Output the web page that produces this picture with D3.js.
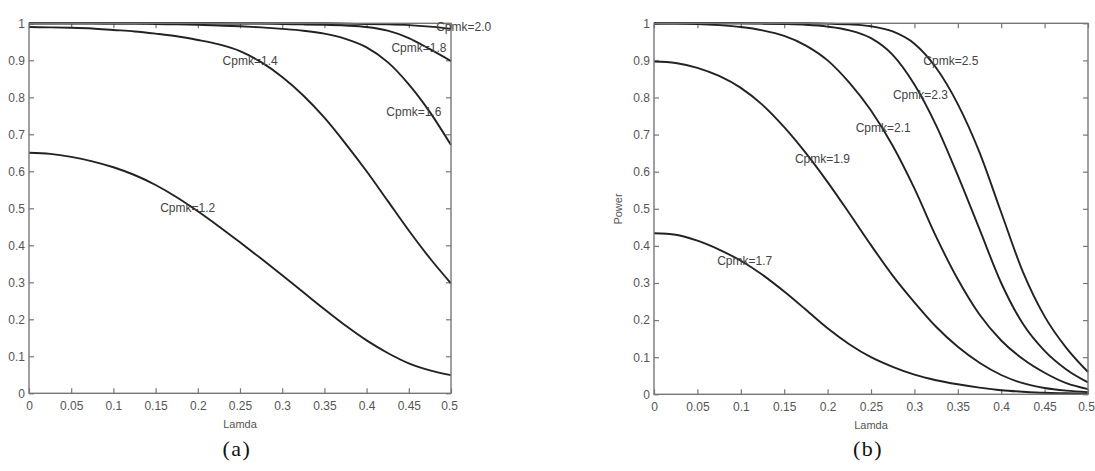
<!DOCTYPE html>
<html>
<head>
<meta charset="utf-8">
<script src="https://cdn.jsdelivr.net/npm/d3@7"></script>
<style>
  body { margin: 0; background: #fff; }
  svg { display: block; }
  .tick text { font-family: "Liberation Sans", Arial, sans-serif; font-size: 12px; fill: #555; }
  .tick line { stroke: #777; stroke-width: 1.2; }
</style>
</head>
<body>
<svg id="chart" width="1095" height="471"></svg>
<script>
// lamda grid shared by every curve
var lamda = [0, 0.025, 0.05, 0.075, 0.1, 0.125, 0.15, 0.175, 0.2, 0.225, 0.25,
             0.275, 0.3, 0.325, 0.35, 0.375, 0.4, 0.425, 0.45, 0.475, 0.5];

// panel (a)
var a12 = [0.650,0.647,0.639,0.627,0.611,0.590,0.563,0.530,0.492,0.451,0.408,0.364,0.319,0.273,0.227,0.183,0.143,0.109,0.081,0.062,0.049];
var a14 = [0.990,0.989,0.988,0.986,0.982,0.978,0.972,0.965,0.955,0.943,0.925,0.895,0.855,0.805,0.745,0.675,0.600,0.520,0.440,0.365,0.297];
var a16 = [1.000,1.000,1.000,1.000,0.999,0.999,0.998,0.997,0.996,0.994,0.992,0.989,0.985,0.980,0.972,0.958,0.935,0.895,0.835,0.760,0.671];
var a18 = [1,1,1,1,1,1,1,1,1,1,0.999,0.999,0.998,0.997,0.996,0.994,0.990,0.980,0.960,0.930,0.898];
var a20 = [1,1,1,1,1,1,1,1,1,1,1,1,1,1,1,0.999,0.998,0.997,0.995,0.991,0.985];

// panel (b)
var b17 = [0.434,0.430,0.414,0.390,0.360,0.322,0.277,0.228,0.178,0.135,0.100,0.074,0.053,0.038,0.027,0.018,0.011,0.007,0.004,0.003,0.002];
var b19 = [0.897,0.893,0.880,0.858,0.826,0.780,0.720,0.650,0.572,0.488,0.402,0.320,0.248,0.182,0.128,0.085,0.052,0.030,0.017,0.010,0.006];
var b21 = [0.999,0.999,0.998,0.995,0.990,0.981,0.966,0.940,0.900,0.840,0.765,0.670,0.555,0.425,0.310,0.215,0.145,0.095,0.058,0.030,0.014];
var b23 = [1,1,1,1,1,0.999,0.998,0.996,0.991,0.981,0.960,0.915,0.835,0.725,0.590,0.445,0.300,0.190,0.117,0.067,0.032];
var b25 = [1,1,1,1,1,1,1,1,0.999,0.997,0.992,0.978,0.945,0.880,0.782,0.652,0.490,0.330,0.210,0.125,0.060];

var seriesA = [a12, a14, a16, a18, a20];
var seriesB = [b17, b19, b21, b23, b25];
var namesA = ["Cpmk=1.2", "Cpmk=1.4", "Cpmk=1.6", "Cpmk=1.8", "Cpmk=2.0"];
var namesB = ["Cpmk=1.7", "Cpmk=1.9", "Cpmk=2.1", "Cpmk=2.3", "Cpmk=2.5"];
// where each curve label sits, in [lamda, power]
var labelAtA = [[0.188, 0.50], [0.262, 0.899], [0.456, 0.759], [0.462, 0.932], [0.515, 0.991]];
var labelAtB = [[0.1045, 0.359], [0.194, 0.634], [0.264, 0.717], [0.307, 0.807], [0.342, 0.899]];

var xTicks = [0, 0.05, 0.1, 0.15, 0.2, 0.25, 0.3, 0.35, 0.4, 0.45, 0.5];
var xTickLabels = ["0", "0.05", "0.1", "0.15", "0.2", "0.25", "0.3", "0.35", "0.4", "0.45", "0.5"];
var yTicks = [0, 0.1, 0.2, 0.3, 0.4, 0.5, 0.6, 0.7, 0.8, 0.9, 1];
var yTickLabels = ["0", "0.1", "0.2", "0.3", "0.4", "0.5", "0.6", "0.7", "0.8", "0.9", "1"];

var svg = d3.select("#chart");
svg.append("rect").attr("width", 1095).attr("height", 471).attr("fill", "#fff");

function drawPanel(box, series, names, labelAt, caption, yTitle) {
    var x = d3.scaleLinear().domain([0, 0.5]).range([box.left, box.right]);
    var y = d3.scaleLinear().domain([0, 1]).range([box.bottom, box.top]);
    var g = svg.append("g");

    var fmtX = function(d, i){ return xTickLabels[i]; };
    var fmtY = function(d, i){ return yTickLabels[i]; };

    var xAxis = g.append("g").attr("transform", "translate(0," + box.bottom + ")")
        .call(d3.axisBottom(x).tickValues(xTicks).tickFormat(fmtX).tickSize(-5).tickSizeOuter(0).tickPadding(8));
    g.append("g").attr("transform", "translate(" + box.left + ",0)")
        .call(d3.axisLeft(y).tickValues(yTicks).tickFormat(fmtY).tickSize(-5).tickSizeOuter(0).tickPadding(4));
    g.append("g").attr("transform", "translate(0," + box.top + ")")
        .call(d3.axisTop(x).tickValues(xTicks).tickFormat("").tickSize(-5).tickSizeOuter(0));
    g.append("g").attr("transform", "translate(" + box.right + ",0)")
        .call(d3.axisRight(y).tickValues(yTicks).tickFormat("").tickSize(-5).tickSizeOuter(0));
    g.selectAll(".domain").remove();
    // keep the last x label inside the page
    xAxis.selectAll(".tick:last-of-type text").attr("dx", -2);

    var line = d3.line()
        .x(function(d, i){ return x(lamda[i]); })
        .y(function(d){ return y(d); })
        .curve(d3.curveMonotoneX);

    g.selectAll("path.curve").data(series).enter().append("path")
        .attr("class", "curve")
        .attr("d", line)
        .attr("fill", "none")
        .attr("stroke", "#222")
        .attr("stroke-width", 1.9);

    // frame drawn over the curves, like matlab's box on
    g.append("rect")
        .attr("x", box.left).attr("y", box.top)
        .attr("width", box.right - box.left).attr("height", box.bottom - box.top)
        .attr("fill", "none").attr("stroke", "#777").attr("stroke-width", 1.4);

    g.selectAll("text.lbl").data(names).enter().append("text")
        .attr("class", "lbl")
        .attr("x", function(d, i){ return x(labelAt[i][0]); })
        .attr("y", function(d, i){ return y(labelAt[i][1]); })
        .attr("text-anchor", "middle")
        .attr("dominant-baseline", "central")
        .attr("font-family", "Liberation Sans, Arial, sans-serif")
        .attr("font-size", 12)
        .attr("fill", "#444")
        .text(function(d){ return d; });

    var cx = (box.left + box.right) / 2;
    g.append("text")
        .attr("x", cx).attr("y", box.bottom + 31)
        .attr("text-anchor", "middle").attr("dominant-baseline", "central")
        .attr("font-family", "Liberation Sans, Arial, sans-serif")
        .attr("font-size", 11).attr("fill", "#555")
        .text("Lamda");

    g.append("text")
        .attr("x", cx - 3).attr("y", 448)
        .attr("text-anchor", "middle").attr("dominant-baseline", "central")
        .attr("font-family", "Liberation Serif, Times New Roman, serif")
        .attr("font-size", 22).attr("letter-spacing", 1.5).attr("fill", "#111")
        .text(caption);

    if (yTitle) {
        g.append("text")
            .attr("transform", "translate(" + (box.left - 36) + "," + 209 + ") rotate(-90)")
            .attr("text-anchor", "middle").attr("dominant-baseline", "central")
            .attr("font-family", "Liberation Sans, Arial, sans-serif")
            .attr("font-size", 11).attr("fill", "#555")
            .text(yTitle);
    }
}

drawPanel({left: 29, right: 451, top: 23.3, bottom: 393.3}, seriesA, namesA, labelAtA, "(a)", null);
drawPanel({left: 654, right: 1088, top: 23.3, bottom: 394.3}, seriesB, namesB, labelAtB, "(b)", "Power");
</script>
</body>
</html>
